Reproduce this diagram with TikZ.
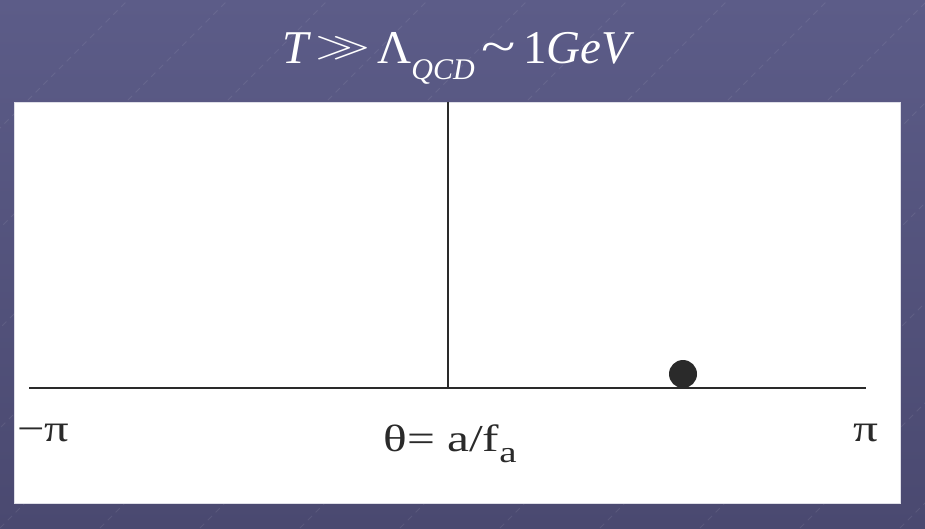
\documentclass[tikz,border=0pt]{standalone}
\usepackage{fontspec}
\setmainfont{Liberation Serif}
\usetikzlibrary{calc}
\definecolor{bgtop}{HTML}{5C5C88}
\definecolor{bgbot}{HTML}{4A4970}
\definecolor{ink}{HTML}{2A2A2A}
\tikzset{
  axisline/.style={draw=ink, line width=1.6pt},
  lbl/.style={inner sep=0pt, text=ink, font=\fontsize{38}{38}\selectfont},
  texture/.style={draw=white, opacity=0.08, line width=0.8pt, dash pattern=on 6pt off 5pt}
}
\begin{document}
\begin{tikzpicture}[x=1pt,y=-1pt]
\useasboundingbox (0,0) rectangle (925,528);
\shade[top color=bgtop, bottom color=bgbot] (0,0) rectangle (925,528);
% faint texture
\foreach \s in {-400,-300,...,1000} {
  \draw[texture] (\s,528) -- (\s+528,0);
}
% panel
\node[fill=white, draw=white!80!bgtop, line width=1pt, inner sep=0pt, minimum width=886pt, minimum height=401pt, anchor=north west] (panel) at (14,102) {};
% title
\node[text=white, inner sep=0pt, anchor=base west] (title) at (282,63)
  {\fontsize{47}{47}\selectfont\itshape T\hspace{7pt}\raisebox{6pt}{\resizebox{55pt}{20pt}{$\gg$}}\hspace{7pt}\upshape Λ\raisebox{-0.36em}{\fontsize{30}{30}\selectfont\itshape QCD}\hspace{7pt}\raisebox{0.02em}{\scalebox{1.35}[1]{\textasciitilde}}\hspace{7pt}1\itshape GeV};
% axes
\coordinate (xl) at (29,388);
\coordinate (xr) at (866,388);
\coordinate (vt) at (448,102);
\coordinate (vb) at (448,388);
\draw[axisline] (xl) -- (xr);
\draw[axisline] (vt) -- (vb);
% ball
\node[circle, fill=ink, minimum size=28pt, inner sep=0pt] (ball) at (683,374) {};
% labels
\node[lbl, anchor=base west] (mpi) at (17,441) {\scalebox{1.28}[1]{−π}};
\node[lbl, anchor=base] (theta) at (450,451) {\scalebox{1.3}[1]{θ= a/f\raisebox{-0.3em}{\fontsize{30}{30}\selectfont a}}};
\node[lbl, anchor=base] (ppi) at (866,441) {\scalebox{1.3}[1]{π}};
\end{tikzpicture}
\end{document}
